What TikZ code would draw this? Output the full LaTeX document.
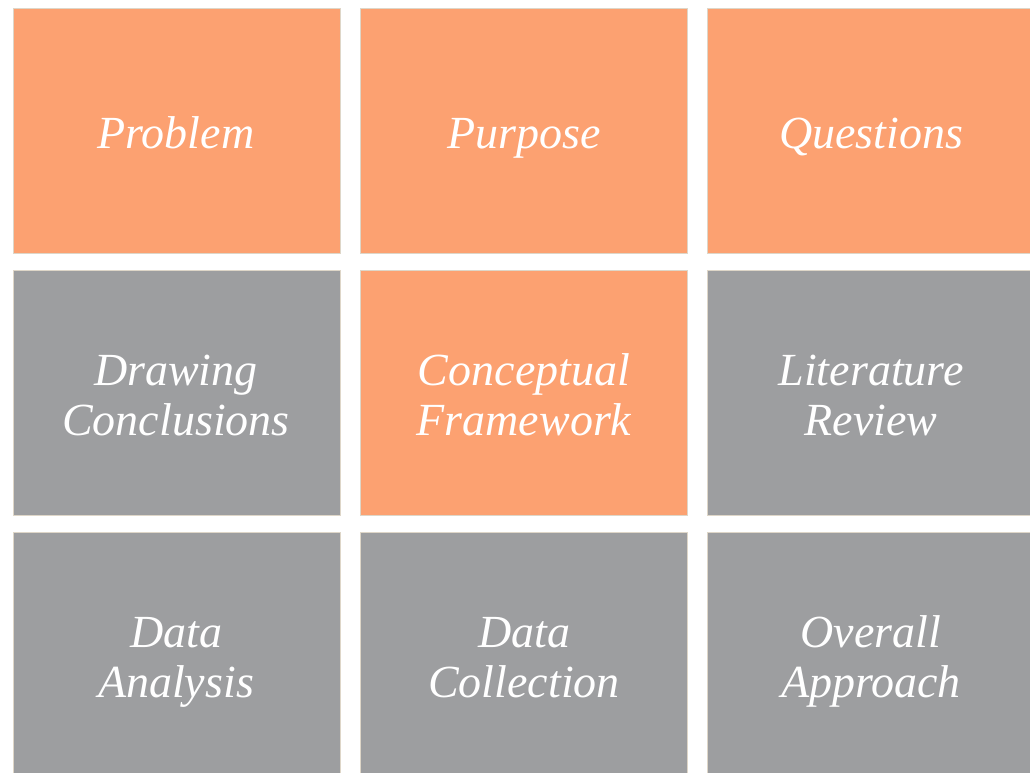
\documentclass[tikz,border=0pt]{standalone}
\usepackage{fontspec}
\setmainfont{Liberation Serif}
\definecolor{orangebox}{RGB}{252,161,113}
\definecolor{graybox}{RGB}{157,158,160}
\definecolor{edgebox}{RGB}{222,214,200}
\tikzset{
  cell/.style={draw=edgebox, line width=1pt, minimum width=327pt, minimum height=245pt, inner sep=0pt, anchor=north west},
  hot/.style={cell, fill=orangebox},
  cold/.style={cell, fill=graybox},
  lbl/.style={text=white, font=\fontsize{46}{50}\selectfont\itshape, align=center, inner sep=0pt, anchor=base}
}
\begin{document}
\begin{tikzpicture}[x=1pt,y=1pt]
\useasboundingbox (0,0) rectangle (1030,-772);
\clip (0,0) rectangle (1030,-772);
\fill[white] (0,0) rectangle (1030,-772);
\node[hot]  (c11) at (12.5,-7.5) {};
\node[hot]  (c12) at (360,-7.5) {};
\node[hot]  (c13) at (707,-7.5) {};
\node[cold] (c21) at (12.5,-269.5) {};
\node[hot]  (c22) at (360,-269.5) {};
\node[cold] (c23) at (707,-269.5) {};
\node[cold] (c31) at (12.5,-531.5) {};
\node[cold] (c32) at (360,-531.5) {};
\node[cold] (c33) at (707,-531.5) {};
\node[lbl] (t11) at (176,-148) {Problem};
\node[lbl] (t12) at (524,-148) {Purpose};
\node[lbl] (t13) at (871,-148) {Questions};
\node[lbl] (t21) at (176,-435) {Drawing\\Conclusions};
\node[lbl] (t22) at (524,-435) {Conceptual\\Framework};
\node[lbl] (t23) at (871,-435) {Literature\\Review};
\node[lbl] (t31) at (176,-697) {Data\\Analysis};
\node[lbl] (t32) at (524,-697) {Data\\Collection};
\node[lbl] (t33) at (871,-697) {Overall\\Approach};
\end{tikzpicture}
\end{document}
